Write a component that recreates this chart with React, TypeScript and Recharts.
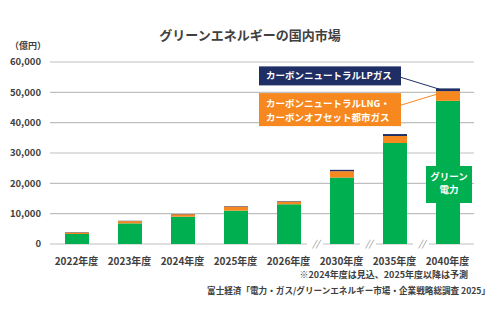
import { BarChart, Bar, XAxis, YAxis, CartesianGrid, LabelList } from "recharts";

const categories = ["2022年度", "2023年度", "2024年度", "2025年度", "2026年度", "2030年度", "2035年度", "2040年度"];
const greenPower = [3300, 6800, 9000, 11000, 13100, 21900, 33300, 47200];
const cnLngGas = [500, 750, 800, 1350, 900, 2100, 2300, 3200];
const cnLpGas = [120, 100, 100, 150, 150, 450, 650, 900];
const yTicks = [0, 10000, 20000, 30000, 40000, 50000, 60000];
// categories after a skipped span get a "//" break mark on the baseline
const breakBefore = ["2030年度", "2035年度", "2040年度"];

const data = categories.map((name, i) => ({
  name,
  green: greenPower[i],
  lng: cnLngGas[i],
  lp: cnLpGas[i],
}));

const FONT = "'Noto Sans CJK JP', 'Noto Sans', sans-serif";
const TEXT = "#404040";
const GREEN = "#00b050";
const ORANGE = "#f7871f";
const NAVY = "#1f2f66";
const LAST = categories.length - 1;

function XTick(props: any) {
  const { x, y, payload } = props;
  const half = 26.5;
  const hasBreak = breakBefore.includes(payload.value);
  return (
    <g>
      {hasBreak && (
        <g>
          <rect x={x - half - 8} y={y - 2} width={16} height={4} fill="#fff" />
          <text x={x - half + 1} y={y + 3} textAnchor="middle" fontSize={9} fill="#808080" fontStyle="italic" fontFamily={FONT}>
            //
          </text>
        </g>
      )}
      <text x={x} y={y + 21} textAnchor="middle" fontSize={10} fontWeight={700} fill={TEXT} fontFamily={FONT}>
        {payload.value}
      </text>
    </g>
  );
}

function GreenLabel(props: any) {
  const { x, y, width, height, index } = props;
  if (index !== LAST) return null;
  const top = y + height - 78;
  return (
    <g>
      <rect x={x - 10} y={top} width={width + 22} height={37} fill={GREEN} />
      <text x={x + width / 2 + 1} y={top + 14} textAnchor="middle" fontSize={9.5} fontWeight={700} fill="#fff" fontFamily={FONT}>
        グリーン
      </text>
      <text x={x + width / 2 + 1} y={top + 27} textAnchor="middle" fontSize={9.5} fontWeight={700} fill="#fff" fontFamily={FONT}>
        電力
      </text>
    </g>
  );
}

function LngLabel(props: any) {
  const { x, y, index } = props;
  if (index !== LAST) return null;
  const right = x - 35;
  return (
    <g>
      <line x1={right} y1={y + 14} x2={x + 1} y2={y + 3} stroke={ORANGE} strokeWidth={1} />
      <rect x={right - 142} y={y + 2} width={142} height={33} fill={ORANGE} />
      <text x={right - 135} y={y + 16} fontSize={9.5} fontWeight={700} fill="#fff" fontFamily={FONT}>
        カーボンニュートラルLNG・
      </text>
      <text x={right - 135} y={y + 30} fontSize={9.5} fontWeight={700} fill="#fff" fontFamily={FONT}>
        カーボンオフセット都市ガス
      </text>
    </g>
  );
}

function LpLabel(props: any) {
  const { x, y, index } = props;
  if (index !== LAST) return null;
  const right = x - 35;
  return (
    <g>
      <line x1={right} y1={y - 11} x2={x + 4} y2={y + 1} stroke={NAVY} strokeWidth={1} />
      <rect x={right - 142} y={y - 22} width={142} height={19} fill={NAVY} />
      <text x={right - 135} y={y - 9} fontSize={9.5} fontWeight={700} fill="#fff" fontFamily={FONT}>
        カーボンニュートラルLPガス
      </text>
    </g>
  );
}

export default function App() {
  return (
    <div style={{ position: "absolute", left: 0, top: 0, width: 500, height: 324, background: "#fff", fontFamily: FONT }}>
      <div style={{ position: "absolute", left: 0, width: 500, top: 26, textAlign: "center", fontSize: 13, fontWeight: 700, color: TEXT, lineHeight: "18px" }}>
        グリーンエネルギーの国内市場
      </div>
      <div style={{ position: "absolute", left: 10, top: 40, fontSize: 9, fontWeight: 700, color: TEXT, lineHeight: "12px" }}>
        （億円）
      </div>
      <BarChart width={500} height={324} data={data} margin={{ top: 62, right: 26, bottom: 60, left: 0 }} barSize={24}>
        <CartesianGrid vertical={false} stroke="#bfbfbf" strokeWidth={1.2} />
        <XAxis dataKey="name" axisLine={false} tickLine={false} tickSize={0} tickMargin={0} height={20} interval={0} tick={<XTick />} />
        <YAxis
          domain={[0, 60000]}
          ticks={yTicks}
          axisLine={false}
          tickLine={false}
          tickSize={0}
          tickMargin={9}
          width={50}
          tickFormatter={(v: number) => v.toLocaleString("en-US")}
          tick={{ fontSize: 9.5, fontWeight: 700, fill: TEXT, fontFamily: FONT }}
        />
        <Bar dataKey="green" stackId="a" fill={GREEN} isAnimationActive={false}>
          <LabelList dataKey="green" content={<GreenLabel />} />
        </Bar>
        <Bar dataKey="lng" stackId="a" fill={ORANGE} isAnimationActive={false}>
          <LabelList dataKey="lng" content={<LngLabel />} />
        </Bar>
        <Bar dataKey="lp" stackId="a" fill={NAVY} isAnimationActive={false}>
          <LabelList dataKey="lp" content={<LpLabel />} />
        </Bar>
      </BarChart>
      <div style={{ position: "absolute", right: 32, top: 268, fontSize: 9, fontWeight: 700, color: TEXT, lineHeight: "14px", whiteSpace: "nowrap" }}>
        ※2024年度は見込、2025年度以降は予測
      </div>
      <div style={{ position: "absolute", right: 10, top: 283, fontSize: 8.6, fontWeight: 700, color: TEXT, lineHeight: "14px", whiteSpace: "nowrap" }}>
        富士経済「電力・ガス/グリーンエネルギー市場・企業戦略総調査 2025」
      </div>
    </div>
  );
}
